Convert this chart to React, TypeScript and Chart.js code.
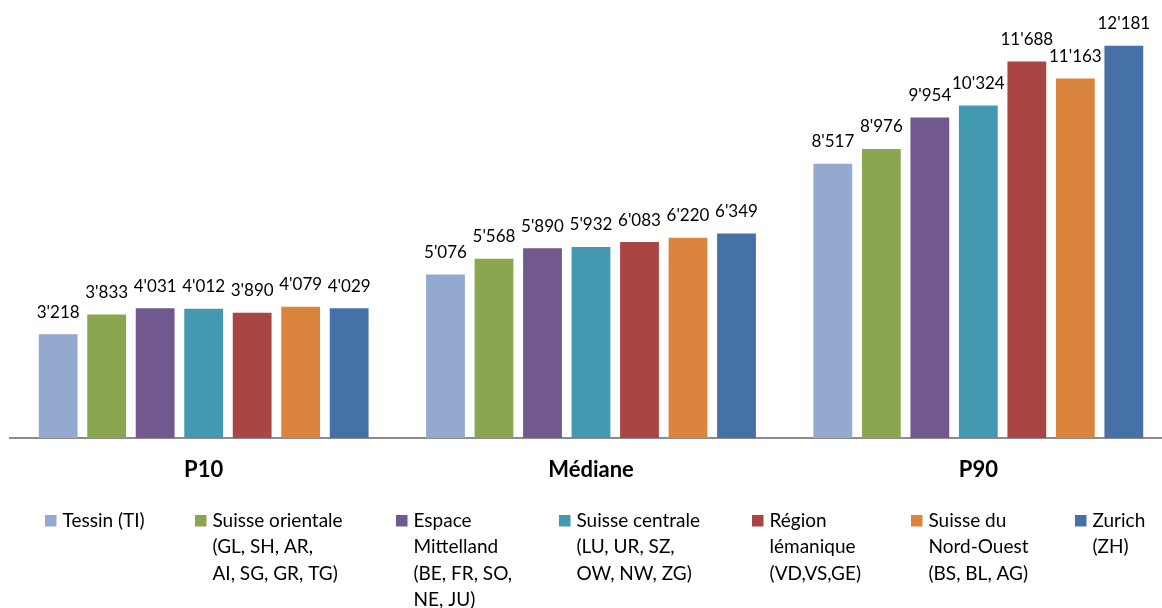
import React, { useEffect, useRef } from "react";
import { Chart, registerables } from "chart.js";

Chart.register(...registerables);

// ---- Data ----
const categories = ["P10", "Médiane", "P90"];

const tessin = [3218, 5076, 8517];
const suisseOrientale = [3833, 5568, 8976];
const espaceMittelland = [4031, 5890, 9954];
const suisseCentrale = [4012, 5932, 10324];
const regionLemanique = [3890, 6083, 11688];
const suisseNordOuest = [4079, 6220, 11163];
const zurich = [4029, 6349, 12181];

const seriesLabels = [
  "Tessin (TI)",
  "Suisse orientale (GL, SH, AR, AI, SG, GR, TG)",
  "Espace Mittelland (BE, FR, SO, NE, JU)",
  "Suisse centrale (LU, UR, SZ, OW, NW, ZG)",
  "Région lémanique (VD,VS,GE)",
  "Suisse du Nord-Ouest (BS, BL, AG)",
  "Zurich (ZH)",
];

const legendLines = [
  ["Tessin (TI)"],
  ["Suisse orientale", "(GL, SH, AR,", "AI, SG, GR, TG)"],
  ["Espace", "Mittelland", "(BE, FR, SO,", "NE, JU)"],
  ["Suisse centrale", "(LU, UR, SZ,", "OW, NW, ZG)"],
  ["Région", "lémanique", "(VD,VS,GE)"],
  ["Suisse du", "Nord-Ouest", "(BS, BL, AG)"],
  ["Zurich", "(ZH)"],
];

const seriesValues = [
  tessin,
  suisseOrientale,
  espaceMittelland,
  suisseCentrale,
  regionLemanique,
  suisseNordOuest,
  zurich,
];

const colors = [
  "#94A9D0",
  "#8AA64E",
  "#71588F",
  "#4299B0",
  "#A94543",
  "#DB843D",
  "#4571A6",
];

const fmt = (v: number) =>
  String(v).replace(/\B(?=(\d{3})+(?!\d))/g, "'");

const FONT = "Lato, 'Noto Sans', sans-serif";

const dataLabelPlugin = {
  id: "dataLabels",
  afterDatasetsDraw(chart: any) {
    const ctx = chart.ctx;
    ctx.save();
    ctx.font = `17px ${FONT}`;
    ctx.fillStyle = "#000";
    ctx.textAlign = "center";
    ctx.textBaseline = "middle";
    chart.data.datasets.forEach((ds: any, i: number) => {
      const meta = chart.getDatasetMeta(i);
      meta.data.forEach((bar: any, j: number) => {
        ctx.fillText(fmt(ds.data[j]), bar.x, bar.y - 22);
      });
    });
    ctx.restore();
  },
};

const legendColumns = [45, 195, 396, 559, 752, 911, 1075];

const multiLegendPlugin = {
  id: "multiLegend",
  afterDraw(chart: any) {
    const ctx = chart.ctx;
    ctx.save();
    ctx.font = `19px ${FONT}`;
    ctx.textAlign = "left";
    ctx.textBaseline = "middle";
    const top = 521;
    chart.data.datasets.forEach((ds: any, i: number) => {
      const x = legendColumns[i];
      ctx.fillStyle = ds.backgroundColor;
      ctx.fillRect(x, top - 6, 11.5, 11.5);
      ctx.fillStyle = "#000";
      legendLines[i].forEach((line: string, j: number) => {
        ctx.fillText(line, x + 17.5, top + j * 26.2);
      });
    });
    ctx.restore();
  },
};

export default function App() {
  const ref = useRef<HTMLCanvasElement | null>(null);

  useEffect(() => {
    if (!ref.current) return;
    const chart = new Chart(ref.current, {
      type: "bar",
      data: {
        labels: categories,
        datasets: seriesValues.map((vals, i) => ({
          label: seriesLabels[i],
          data: vals,
          backgroundColor: colors[i],
          borderWidth: 0,
          categoryPercentage: 0.8765,
          barPercentage: 0.8,
        })),
      },
      options: {
        responsive: false,
        animation: false,
        devicePixelRatio: 1,
        layout: { padding: { left: 10, right: 8, top: 0, bottom: 130 } },
        plugins: {
          legend: { display: false },
          tooltip: { enabled: false },
        },
        scales: {
          x: {
            grid: { display: false, drawTicks: false },
            border: { display: true, color: "#8C8C8C", width: 2 },
            ticks: {
              color: "#000",
              font: { family: FONT, size: 22, weight: "bold" },
              padding: 19,
            },
            afterFit: (scale: any) => {
              scale.height = 40;
            },
          },
          y: {
            display: false,
            min: 0,
            max: 13600,
          },
        },
      },
      plugins: [dataLabelPlugin, multiLegendPlugin],
    });
    return () => chart.destroy();
  }, []);

  return (
    <div
      style={{
        position: "absolute",
        left: 0,
        top: 0,
        width: 1162,
        height: 608,
        overflow: "hidden",
        background: "#fff",
      }}
    >
      <canvas
        ref={ref}
        width={1180}
        height={608}
        style={{ width: 1180, height: 608, display: "block" }}
      />
    </div>
  );
}
